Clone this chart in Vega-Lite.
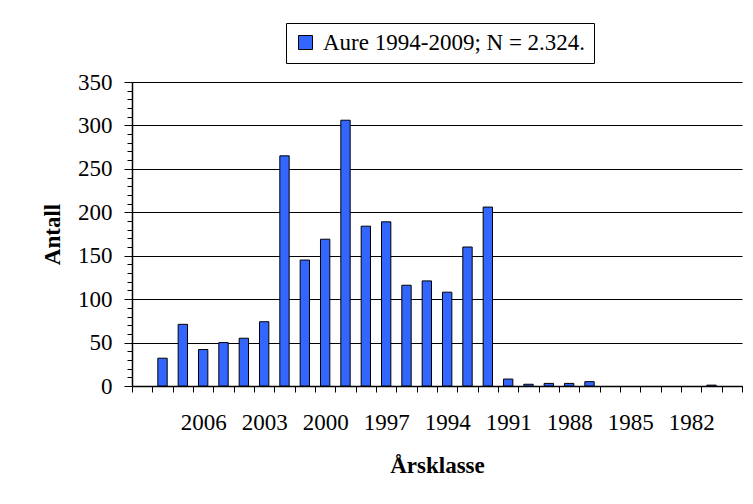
{
  "$schema": "https://vega.github.io/schema/vega-lite/v6.json",
  "autosize": {"type": "none"},
  "padding": {"left": 132, "top": 82, "right": 11, "bottom": 118},
  "width": 610,
  "height": 304,
  "background": "white",
  "config": {
    "view": {"stroke": null},
    "font": "Liberation Serif"
  },
  "data": {
    "values": [
      {"year": 2009, "antall": 0},
      {"year": 2008, "antall": 32},
      {"year": 2007, "antall": 71},
      {"year": 2006, "antall": 42},
      {"year": 2005, "antall": 50},
      {"year": 2004, "antall": 55},
      {"year": 2003, "antall": 74},
      {"year": 2002, "antall": 265},
      {"year": 2001, "antall": 145},
      {"year": 2000, "antall": 169},
      {"year": 1999, "antall": 306},
      {"year": 1998, "antall": 184},
      {"year": 1997, "antall": 189},
      {"year": 1996, "antall": 116},
      {"year": 1995, "antall": 121},
      {"year": 1994, "antall": 108},
      {"year": 1993, "antall": 160},
      {"year": 1992, "antall": 206},
      {"year": 1991, "antall": 8},
      {"year": 1990, "antall": 2},
      {"year": 1989, "antall": 3},
      {"year": 1988, "antall": 3},
      {"year": 1987, "antall": 5},
      {"year": 1986, "antall": 0},
      {"year": 1985, "antall": 0},
      {"year": 1984, "antall": 0},
      {"year": 1983, "antall": 0},
      {"year": 1982, "antall": 0},
      {"year": 1981, "antall": 1},
      {"year": 1980, "antall": 0}
    ]
  },
  "mark": {"type": "bar", "width": {"band": 0.46}, "stroke": "black", "strokeWidth": 1},
  "encoding": {
    "x": {
      "field": "year",
      "type": "ordinal",
      "sort": "descending",
      "scale": {"paddingInner": 0, "paddingOuter": 0},
      "axis": {
        "title": "Årsklasse",
        "titleFont": "Liberation Serif",
        "titleFontSize": 23,
        "titleFontWeight": "bold",
        "titleColor": "black",
        "titlePadding": 20,
        "labelAngle": 0,
        "labelFont": "Liberation Serif",
        "labelFontSize": 23,
        "labelColor": "black",
        "labelPadding": 19,
        "labelExpr": "((2009 - datum.value) % 3 == 0 && datum.value != 2009) ? datum.label : ''",
        "labelOverlap": false,
        "tickBand": "extent",
        "tickSize": 6,
        "tickColor": "black",
        "domainColor": "black",
        "domainWidth": 1.5,
        "grid": false
      }
    },
    "y": {
      "field": "antall",
      "type": "quantitative",
      "scale": {"domain": [0, 350], "nice": false},
      "axis": {
        "title": "Antall",
        "titleFont": "Liberation Serif",
        "titleFontSize": 23,
        "titleFontWeight": "bold",
        "titleColor": "black",
        "titlePadding": 13,
        "values": [0,10,20,30,40,50,60,70,80,90,100,110,120,130,140,150,160,170,180,190,200,210,220,230,240,250,260,270,280,290,300,310,320,330,340,350],
        "labelExpr": "datum.value % 50 === 0 ? datum.label : ''",
        "labelFont": "Liberation Serif",
        "labelFontSize": 23,
        "labelColor": "black",
        "labelPadding": 12,
        "labelOverlap": false,
        "tickColor": "black",
        "tickSize": {"condition": {"test": "datum.value % 50 === 0", "value": 8}, "value": 5},
        "domainColor": "black",
        "domainWidth": 1.5,
        "grid": true,
        "gridColor": "black",
        "gridWidth": 1,
        "gridOpacity": {"condition": {"test": "datum.value % 50 === 0", "value": 1}, "value": 0}
      }
    },
    "strokeOpacity": {
      "condition": {"test": "datum.antall === 0", "value": 0},
      "value": 1
    },
    "color": {
      "datum": "Aure 1994-2009; N = 2.324.",
      "type": "nominal",
      "scale": {"range": ["#3366FF"]},
      "legend": {
        "title": null,
        "orient": "none",
        "legendX": 154,
        "legendY": -59,
        "direction": "vertical",
        "fillColor": "white",
        "strokeColor": "black",
        "padding": 8,
        "symbolType": "square",
        "symbolSize": 196,
        "symbolStrokeColor": "black",
        "symbolStrokeWidth": 1,
        "symbolOpacity": 1,
        "labelFont": "Liberation Serif",
        "labelFontSize": 23,
        "labelColor": "black",
        "labelOffset": 6,
        "labelLimit": 400
      }
    }
  }
}
